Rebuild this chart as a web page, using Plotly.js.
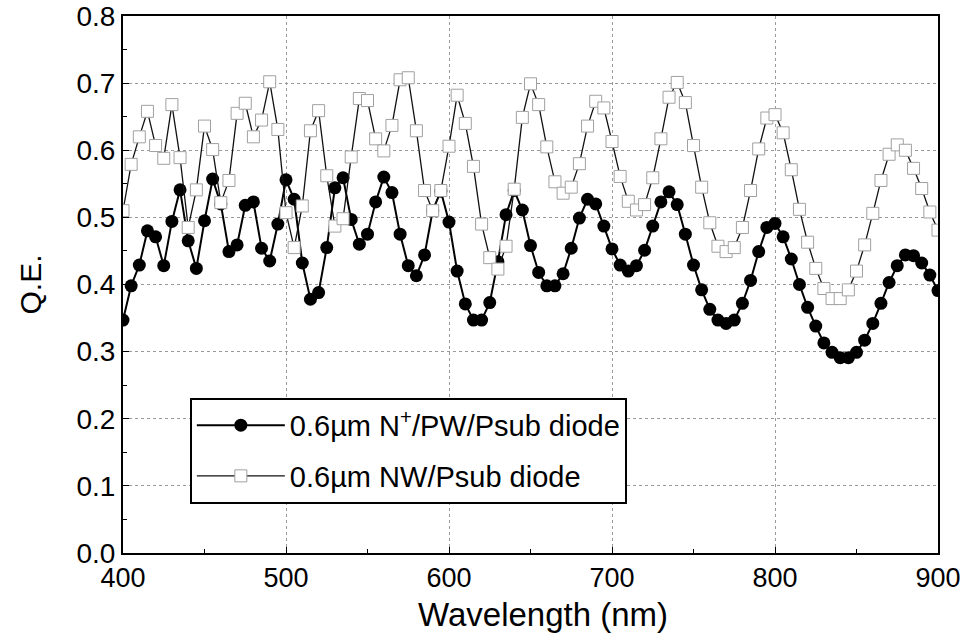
<!DOCTYPE html>
<html>
<head>
<meta charset="utf-8">
<script src="https://cdn.plot.ly/plotly-3.0.1.min.js"></script>
<style>html,body{margin:0;padding:0;background:#fff;}#chart{width:968px;height:635px;}</style>
</head>
<body>
<div id="chart"></div>
<script>
const wavelength = [400,405,410,415,420,425,430,435,440,445,450,455,460,465,470,475,480,485,490,495,
500,505,510,515,520,525,530,535,540,545,550,555,560,565,570,575,580,585,590,595,
600,605,610,615,620,625,630,635,640,645,650,655,660,665,670,675,680,685,690,695,
700,705,710,715,720,725,730,735,740,745,750,755,760,765,770,775,780,785,790,795,
800,805,810,815,820,825,830,835,840,845,850,855,860,865,870,875,880,885,890,895,900];

const qeNplus = [0.347,0.398,0.429,0.480,0.471,0.428,0.494,0.541,0.465,0.424,
0.495,0.557,0.520,0.449,0.459,0.518,0.523,0.454,0.435,0.490,
0.556,0.527,0.432,0.378,0.388,0.455,0.544,0.559,0.497,0.460,
0.475,0.523,0.560,0.537,0.475,0.428,0.413,0.444,0.510,0.539,
0.493,0.420,0.371,0.347,0.347,0.373,0.434,0.504,0.540,0.511,
0.458,0.418,0.398,0.398,0.416,0.454,0.499,0.527,0.520,0.487,
0.453,0.429,0.420,0.428,0.451,0.487,0.523,0.538,0.519,0.475,
0.429,0.392,0.363,0.347,0.342,0.347,0.372,0.406,0.449,0.485,
0.491,0.471,0.438,0.400,0.366,0.338,0.313,0.299,0.291,0.291,
0.299,0.317,0.342,0.372,0.403,0.428,0.444,0.443,0.432,0.414,0.391];

const qeNW = [0.510,0.579,0.620,0.658,0.607,0.588,0.668,0.589,0.485,0.541,
0.636,0.601,0.522,0.555,0.655,0.670,0.620,0.645,0.702,0.631,
0.507,0.455,0.517,0.629,0.659,0.562,0.487,0.498,0.590,0.677,
0.674,0.617,0.599,0.637,0.705,0.708,0.629,0.540,0.510,0.540,
0.606,0.682,0.640,0.576,0.490,0.440,0.423,0.457,0.542,0.649,
0.699,0.668,0.605,0.553,0.536,0.545,0.580,0.636,0.673,0.663,
0.613,0.561,0.524,0.511,0.519,0.559,0.617,0.679,0.701,0.671,
0.607,0.545,0.492,0.457,0.449,0.455,0.485,0.540,0.602,0.648,
0.653,0.626,0.571,0.512,0.463,0.424,0.394,0.379,0.379,0.392,
0.420,0.459,0.506,0.555,0.594,0.608,0.600,0.573,0.543,0.508,0.481];

const seriesNames = ['0.6\u00b5m N<sup>+</sup>/PW/Psub diode', '0.6\u00b5m NW/Psub diode'];
const yTicks = [0,0.1,0.2,0.3,0.4,0.5,0.6,0.7,0.8];
const yTickText = ['0.0','0.1','0.2','0.3','0.4','0.5','0.6','0.7','0.8'];
const xTicks = [400,500,600,700,800,900];
const xTitle = 'Wavelength (nm)';
const yTitle = 'Q.E.';

const FONT = 'Liberation Sans, Arial, Helvetica, sans-serif';

const traces = [
  {
    x: wavelength, y: qeNplus, name: seriesNames[0], type: 'scatter', mode: 'lines+markers',
    legendgroup: 'a',
    line: {color: '#000', width: 2},
    marker: {symbol: 'circle', size: 13, color: '#000', line: {color: '#000', width: 0}}
  },
  {
    x: wavelength, y: qeNW, name: seriesNames[1], type: 'scatter', mode: 'lines+markers',
    legendgroup: 'b',
    line: {color: '#111', width: 1.3},
    marker: {symbol: 'square', size: 12, color: '#fff', line: {color: '#a0a0a0', width: 1}}
  }
];

const layout = {
  width: 968, height: 635,
  margin: {l: 123, r: 30, t: 16, b: 82},
  paper_bgcolor: '#fff', plot_bgcolor: '#fff',
  font: {family: FONT, color: '#000', size: 27},
  showlegend: true,
  legend: {
    x: 0.082, y: 0.289, xanchor: 'left', yanchor: 'top',
    bgcolor: '#fff', bordercolor: '#000', borderwidth: 2,
    font: {family: FONT, size: 29, color: '#000'},
    itemwidth: 88, tracegroupgap: 10
  },
  xaxis: {
    range: [400, 900], tickvals: xTicks, ticktext: xTicks.map(String),
    showgrid: true, gridcolor: '#9a9a9a', griddash: 'dot', gridwidth: 1,
    showline: true, linecolor: '#000', linewidth: 2, mirror: true,
    ticks: 'inside', ticklen: 6, tickcolor: '#000',
    minor: {dtick: 50, tick0: 400, ticks: 'inside', ticklen: 4, tickcolor: '#000', showgrid: false},
    zeroline: false,
    tickfont: {family: FONT, size: 27, color: '#000'}
  },
  yaxis: {
    range: [0, 0.8], tickvals: yTicks, ticktext: yTickText,
    showgrid: true, gridcolor: '#9a9a9a', griddash: 'dot', gridwidth: 1,
    showline: true, linecolor: '#000', linewidth: 2, mirror: true,
    ticks: 'inside', ticklen: 6, tickcolor: '#000',
    minor: {dtick: 0.05, tick0: 0, ticks: 'inside', ticklen: 4, tickcolor: '#000', showgrid: false},
    zeroline: false,
    tickfont: {family: FONT, size: 28, color: '#000'},
    title: {text: yTitle, font: {family: FONT, size: 30, color: '#000'}, standoff: 26}
  },
  annotations: [
    {
      text: xTitle, xref: 'paper', yref: 'paper', x: 0.515, y: -0.114,
      xanchor: 'center', yanchor: 'middle', showarrow: false,
      font: {family: FONT, size: 33, color: '#000'}
    }
  ]
};

Plotly.newPlot('chart', traces, layout, {displayModeBar: false, staticPlot: true});
</script>
</body>
</html>
